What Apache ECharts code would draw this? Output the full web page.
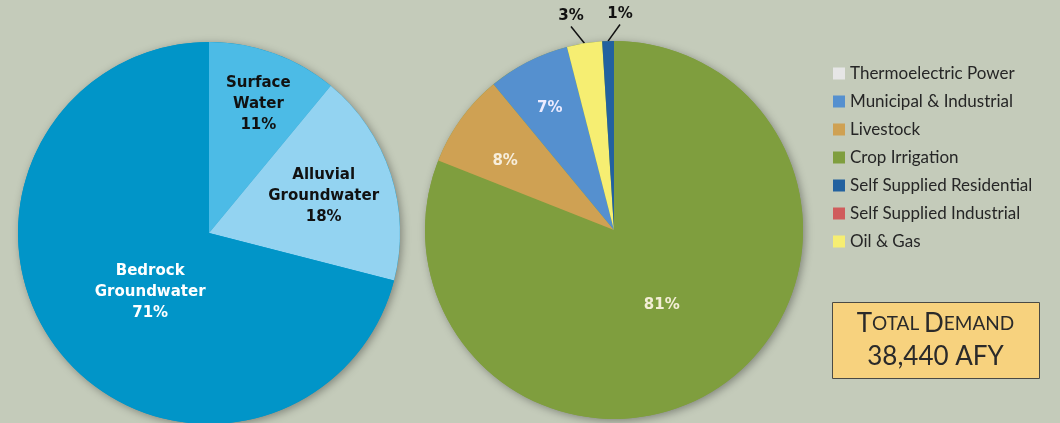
<!DOCTYPE html>
<html><head><meta charset="utf-8">
<script src="https://cdn.jsdelivr.net/npm/echarts@6/dist/echarts.min.js"></script>
<style>html,body{margin:0;padding:0;background:#c4cbba}#c{width:1060px;height:423px}</style>
</head><body><div id="c"></div>
<script>
// ---- data ----
const sourceNames = ['Surface Water', 'Alluvial Groundwater', 'Bedrock Groundwater'];
const sourceValues = [11, 18, 71];
const useNames = ['Crop Irrigation', 'Livestock', 'Municipal & Industrial', 'Oil & Gas', 'Self Supplied Residential', 'Thermoelectric Power', 'Self Supplied Industrial'];
const useValues = [81, 8, 7, 3, 1, 0, 0];
const legendOrder = ['Thermoelectric Power', 'Municipal & Industrial', 'Livestock', 'Crop Irrigation', 'Self Supplied Residential', 'Self Supplied Industrial', 'Oil & Gas'];
const totalTitleWords = ['Total', 'Demand'];
const totalValueText = '38,440 AFY';

// ---- styles ----
const sourceColors = {'Surface Water': '#4cbbe6', 'Alluvial Groundwater': '#93d3f1', 'Bedrock Groundwater': '#0195c8'};
const sourceLabelColors = {'Surface Water': '#111', 'Alluvial Groundwater': '#111', 'Bedrock Groundwater': '#ffffff'};
const sourceLabelOffsets = {'Surface Water': [16, -36], 'Alluvial Groundwater': [21, -6], 'Bedrock Groundwater': [19, -1]};
const useColors = {'Crop Irrigation': '#7f9e3e', 'Livestock': '#cfa153', 'Municipal & Industrial': '#5590cf', 'Oil & Gas': '#f6ee72', 'Self Supplied Residential': '#22619f', 'Thermoelectric Power': '#e6e6e6', 'Self Supplied Industrial': '#d05c5c'};
const useLabelColors = {'Crop Irrigation': '#f3eed6', 'Livestock': '#f7eedc', 'Municipal & Industrial': '#ecebff'};
const useLabelOffsets = {'Crop Irrigation': [-7, -6], 'Livestock': [-30, -12], 'Municipal & Industrial': [-20, -35]};
const outsideLabelPos = {'Oil & Gas': [571, 16], 'Self Supplied Residential': [620, 14]};

const labelFont = {fontFamily: 'DejaVu Sans', fontWeight: 'bold', fontSize: 15, lineHeight: 21};

const sourceData = sourceNames.map((n, i) => ({
  name: n, value: sourceValues[i],
  itemStyle: {color: sourceColors[n]},
  label: Object.assign({color: sourceLabelColors[n], offset: sourceLabelOffsets[n]}, labelFont)
}));

const useData = useNames.map((n, i) => {
  const v = useValues[i];
  const d = {name: n, value: v, itemStyle: {color: useColors[n]}};
  if (v === 0) {
    d.label = {show: false}; d.labelLine = {show: false};
  } else if (outsideLabelPos[n]) {
    d.label = Object.assign({position: 'outside', color: '#111'}, labelFont);
    d.labelLine = {show: true, length: 14, length2: 0, lineStyle: {color: '#111', width: 1.5}};
  } else {
    d.label = Object.assign({position: 'inside', color: useLabelColors[n], offset: useLabelOffsets[n]}, labelFont);
  }
  return d;
});

const chart = echarts.init(document.getElementById('c'), null, {renderer: 'canvas'});
chart.setOption({
  backgroundColor: '#c4cbba',
  animation: false,
  legend: {
    data: legendOrder, orient: 'vertical', left: 833, top: 65, padding: 0,
    itemWidth: 12, itemHeight: 12, itemGap: 11, icon: 'rect', selectedMode: false,
    textStyle: {fontFamily: 'Lato', fontSize: 17, color: '#262626', lineHeight: 17}
  },
  series: [
    {type: 'pie', silent: true, center: [209, 233], radius: 191, z: 1, label: {show: false},
     data: [{value: 1, name: '', itemStyle: {color: '#0195c8', shadowBlur: 8, shadowColor: 'rgba(0,0,0,0.35)', shadowOffsetX: 2, shadowOffsetY: 2}}]},
    {type: 'pie', silent: true, center: [614, 230], radius: 189, z: 1, label: {show: false},
     data: [{value: 1, name: '', itemStyle: {color: '#7f9e3e', shadowBlur: 8, shadowColor: 'rgba(0,0,0,0.35)', shadowOffsetX: 2, shadowOffsetY: 2}}]},
    {type: 'pie', name: 'Sources', silent: true, z: 2, center: [209, 233], radius: 191, startAngle: 90, clockwise: true,
     avoidLabelOverlap: false,
     label: {show: true, position: 'inside', formatter: p => p.name.replace(' ', '\n') + '\n' + p.value + '%'},
     labelLine: {show: false},
     data: sourceData},
    {type: 'pie', name: 'Uses', silent: true, z: 2, center: [614, 230], radius: 189, startAngle: 90, clockwise: true,
     avoidLabelOverlap: false,
     label: {show: true, formatter: p => p.value + '%'},
     labelLayout: function (p) {
       const n = useNames[p.dataIndex];
       if (outsideLabelPos[n]) {
         return {x: outsideLabelPos[n][0], y: outsideLabelPos[n][1], align: 'center', verticalAlign: 'middle'};
       }
       return {};
     },
     data: useData}
  ],
  graphic: [
    {type: 'rect', left: 832, top: 302, z: 10, shape: {width: 207, height: 76},
     style: {fill: '#f7d27e', stroke: '#4a4a44', lineWidth: 1}},
    {type: 'text', x: 935.5, y: 324, z: 11,
     style: {
       text: totalTitleWords.map(w => '{b|' + w[0].toUpperCase() + '}{s|' + w.slice(1).toUpperCase() + '}').join('{s| }'),
       align: 'center', verticalAlign: 'middle',
       rich: {b: {fontFamily: 'Lato', fontSize: 26, fill: '#2a2a2a', color: '#2a2a2a'}, s: {fontFamily: 'Lato', fontSize: 19, fill: '#2a2a2a', color: '#2a2a2a'}}
     }},
    {type: 'text', x: 935.5, y: 357, z: 11,
     style: {text: totalValueText, align: 'center', verticalAlign: 'middle', fontFamily: 'Lato', fontSize: 26, fill: '#2a2a2a'}}
  ]
});
</script></body></html>
